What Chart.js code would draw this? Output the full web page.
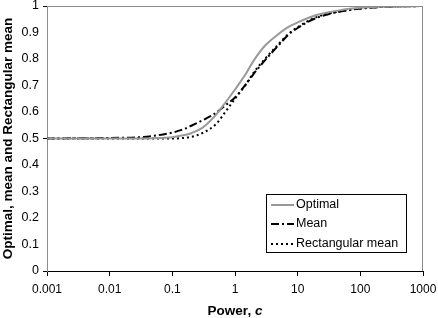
<!DOCTYPE html>
<html>
<head>
<meta charset="utf-8">
<script src="https://cdn.jsdelivr.net/npm/chart.js@4.4.0/dist/chart.umd.min.js"></script>
<style>
  html, body { margin: 0; padding: 0; background: #fff; }
  #wrap { width: 438px; height: 318px; }
</style>
</head>
<body>
<div id="wrap"><canvas id="chart" width="438" height="318"></canvas></div>
<script>
// values
const powerValues   = [0.001, 0.01, 0.03, 0.05, 0.1, 0.15, 0.2, 0.3, 0.5, 0.7, 1, 1.5, 2, 3, 5, 7, 10, 20, 50, 100, 200, 1000];
const optimalValues = [0.5, 0.5, 0.5, 0.501, 0.505, 0.512, 0.52, 0.54, 0.59, 0.635, 0.685, 0.745, 0.795, 0.85, 0.895, 0.92, 0.938, 0.966, 0.985, 0.993, 0.997, 1];
const meanValues    = [0.5, 0.502, 0.505, 0.51, 0.522, 0.535, 0.548, 0.568, 0.597, 0.625, 0.655, 0.705, 0.745, 0.795, 0.853, 0.89, 0.917, 0.955, 0.98, 0.99, 0.996, 1];
const rectValues    = [0.5, 0.5, 0.5, 0.5, 0.5, 0.502, 0.506, 0.52, 0.555, 0.6, 0.65, 0.705, 0.75, 0.8, 0.857, 0.893, 0.92, 0.958, 0.981, 0.991, 0.996, 1];
const xTickValues   = [0.001, 0.01, 0.1, 1, 10, 100, 1000];
const yMarkedTicks  = [0, 0.5, 1];

const toPoints = vals => powerValues.map((p, i) => ({ x: p, y: vals[i] }));

const FONT = "'Liberation Sans', Arial, sans-serif";

const frame = {
  id: 'frame',
  afterDraw(chart) {
    const { ctx, chartArea: a } = chart;
    ctx.save();
    // top and right border
    ctx.strokeStyle = '#8c8c8c';
    ctx.lineWidth = 1;
    ctx.beginPath();
    ctx.moveTo(a.left, a.top + 0.5);
    ctx.lineTo(a.right - 0.5, a.top + 0.5);
    ctx.lineTo(a.right - 0.5, a.bottom);
    ctx.stroke();

    // x title with italic c
    ctx.fillStyle = '#000';
    ctx.textBaseline = 'middle';
    const t1 = 'Power, ';
    ctx.font = 'bold italic 13.5px ' + FONT;
    const w2 = ctx.measureText('c').width;
    ctx.font = 'bold 13.5px ' + FONT;
    const w1 = ctx.measureText(t1).width;
    let x = 235 - (w1 + w2) / 2;
    ctx.textAlign = 'left';
    ctx.fillText(t1, x, 311);
    ctx.font = 'bold italic 13.5px ' + FONT;
    ctx.fillText('c', x + w1, 311);

    // legend
    const lx = 266, ly = 194, lw = 140, lh = 58;
    ctx.fillStyle = '#fff';
    ctx.fillRect(lx, ly, lw, lh);
    ctx.strokeStyle = '#000';
    ctx.lineWidth = 1;
    ctx.strokeRect(lx + 0.5, ly + 0.5, lw, lh);
    const rows = [205, 224, 244];
    chart.data.datasets.forEach((ds, i) => {
      const y = rows[i];
      ctx.save();
      ctx.strokeStyle = ds.borderColor;
      ctx.lineWidth = ds.borderWidth;
      ctx.setLineDash(ds.borderDash || []);
      ctx.beginPath();
      ctx.moveTo(lx + 5, y);
      ctx.lineTo(lx + 28, y);
      ctx.stroke();
      ctx.restore();
      ctx.fillStyle = '#000';
      ctx.font = '12.5px ' + FONT;
      ctx.textAlign = 'left';
      ctx.fillText(ds.label, lx + 30, y);
    });
    ctx.restore();
  }
};

new Chart(document.getElementById('chart'), {
  type: 'line',
  data: {
    datasets: [
      {
        label: 'Optimal',
        data: toPoints(optimalValues),
        borderColor: '#999999',
        borderWidth: 2,
        pointRadius: 0,
        cubicInterpolationMode: 'monotone',
        fill: false
      },
      {
        label: 'Mean',
        data: toPoints(meanValues),
        borderColor: '#000000',
        borderWidth: 2,
        borderDash: [8, 3, 2, 3],
        pointRadius: 0,
        cubicInterpolationMode: 'monotone',
        fill: false
      },
      {
        label: 'Rectangular mean',
        data: toPoints(rectValues),
        borderColor: '#000000',
        borderWidth: 2,
        borderDash: [2, 3],
        pointRadius: 0,
        cubicInterpolationMode: 'monotone',
        fill: false
      }
    ]
  },
  options: {
    responsive: false,
    animation: false,
    events: [],
    layout: { padding: 0 },
    plugins: {
      legend: { display: false },
      tooltip: { enabled: false }
    },
    scales: {
      x: {
        type: 'logarithmic',
        min: 0.001,
        max: 1000,
        afterBuildTicks: s => { s.ticks = xTickValues.map(v => ({ value: v })); },
        afterFit: s => { s.height = 47; s.paddingLeft = 0; s.paddingRight = 15; },
        ticks: {
          color: '#000',
          font: { family: FONT, size: 12 },
          padding: 6,
          maxRotation: 0,
          autoSkip: false,
          callback: v => String(v)
        },
        grid: { display: true, drawOnChartArea: false, drawTicks: true, tickLength: 5, color: '#000' },
        border: { display: true, color: '#000', width: 1 }
      },
      y: {
        min: 0,
        max: 1,
        afterFit: s => { s.width = 47; s.paddingTop = 6; s.paddingBottom = 0; },
        ticks: {
          stepSize: 0.1,
          color: '#000',
          font: { family: FONT, size: 12.5 },
          padding: 4,
          callback: v => String(+v.toFixed(1))
        },
        grid: {
          display: true,
          drawOnChartArea: false,
          drawTicks: true,
          tickLength: 4,
          color: c => yMarkedTicks.some(t => Math.abs(t - c.tick.value) < 1e-6) ? '#000' : 'rgba(0,0,0,0)'
        },
        border: { display: true, color: '#8c8c8c', width: 1 },
        title: {
          display: true,
          text: 'Optimal, mean and Rectangular mean',
          color: '#000',
          font: { family: FONT, size: 13.5, weight: 'bold' },
          padding: { top: 0, bottom: 0 }
        }
      }
    }
  },
  plugins: [frame]
});
</script>
</body>
</html>
